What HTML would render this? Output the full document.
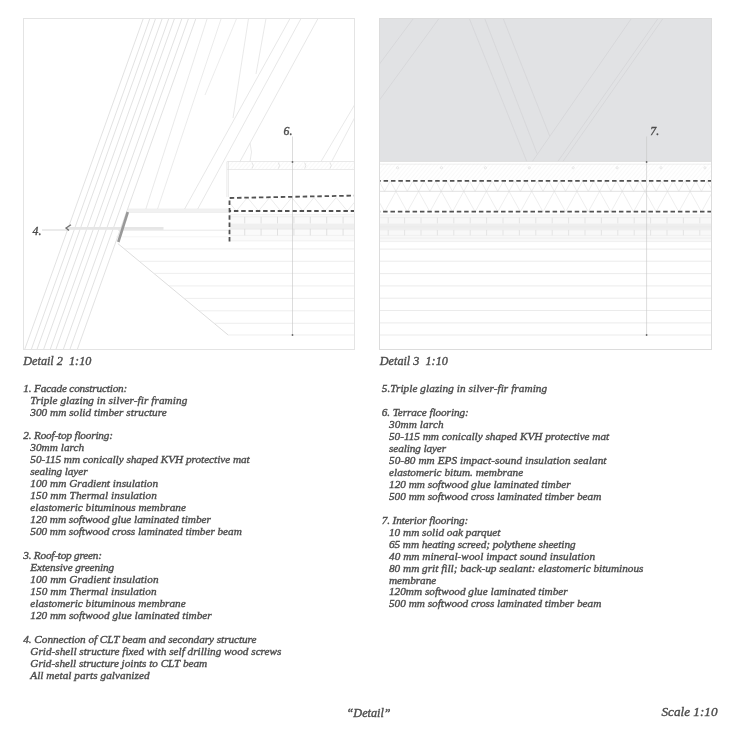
<!DOCTYPE html>
<html><head><meta charset="utf-8"><style>
html,body{margin:0;padding:0;background:#fff;width:730px;height:730px;overflow:hidden}
svg{display:block;will-change:transform}
text{font-family:"Liberation Serif",serif;font-style:italic;stroke:#4c4c4c;stroke-width:0.38px}
</style></head><body>
<svg width="730" height="730" viewBox="0 0 730 730">
<defs>
<pattern id="hatch" patternUnits="userSpaceOnUse" width="3" height="3" patternTransform="rotate(40)">
<line x1="0" y1="0" x2="0" y2="3" stroke="#eeeeee" stroke-width="0.7"/>
</pattern>
</defs>
<rect width="730" height="730" fill="#fff"/>
<g id="left">
<line x1="143.30" y1="18.50" x2="24.67" y2="349.50" stroke="#d6d6d6" stroke-width="0.7" />
<line x1="149.90" y1="18.50" x2="31.27" y2="349.50" stroke="#d6d6d6" stroke-width="0.7" />
<line x1="155.60" y1="18.50" x2="36.97" y2="349.50" stroke="#d6d6d6" stroke-width="0.7" />
<line x1="162.20" y1="18.50" x2="43.57" y2="349.50" stroke="#d6d6d6" stroke-width="0.7" />
<line x1="168.80" y1="18.50" x2="50.17" y2="349.50" stroke="#d6d6d6" stroke-width="0.7" />
<line x1="174.50" y1="18.50" x2="55.87" y2="349.50" stroke="#d6d6d6" stroke-width="0.7" />
<line x1="181.90" y1="18.50" x2="63.27" y2="349.50" stroke="#d6d6d6" stroke-width="0.7" />
<line x1="188.50" y1="18.50" x2="69.87" y2="349.50" stroke="#d6d6d6" stroke-width="0.7" />
<line x1="195.90" y1="18.50" x2="77.27" y2="349.50" stroke="#d6d6d6" stroke-width="0.7" />
<line x1="207.20" y1="18.50" x2="145.80" y2="209.20" stroke="#e0e0e0" stroke-width="0.7" />
<line x1="221.20" y1="18.50" x2="157.50" y2="209.20" stroke="#e2e2e2" stroke-width="0.7" />
<line x1="236.60" y1="18.50" x2="205.00" y2="95.00" stroke="#e4e4e4" stroke-width="0.7" />
<line x1="248.50" y1="18.50" x2="233.00" y2="118.00" stroke="#e0e0e0" stroke-width="0.7" />
<line x1="266.00" y1="18.50" x2="256.00" y2="74.00" stroke="#e0e0e0" stroke-width="0.7" />
<line x1="290.00" y1="18.50" x2="184.50" y2="209.20" stroke="#dcdcdc" stroke-width="0.7" />
<line x1="301.00" y1="18.50" x2="197.60" y2="209.20" stroke="#dcdcdc" stroke-width="0.7" />
<line x1="318.00" y1="18.50" x2="240.00" y2="161.50" stroke="#dcdcdc" stroke-width="0.7" />
<line x1="354.50" y1="105.00" x2="321.00" y2="161.50" stroke="#e0e0e0" stroke-width="0.7" />
<line x1="354.50" y1="118.00" x2="331.70" y2="161.50" stroke="#e0e0e0" stroke-width="0.7" />
<path d="M250,143 Q253,152 250,161.5" fill="none" stroke="#e0e0e0" stroke-width="0.7"/>
<line x1="128.00" y1="209.20" x2="228.00" y2="209.20" stroke="#e4e4e4" stroke-width="0.8" />
<line x1="128.00" y1="212.30" x2="228.00" y2="212.30" stroke="#e4e4e4" stroke-width="0.8" />
<rect x="128" y="209.2" width="100" height="3.1" fill="#f1f1f1"/>
<rect x="67" y="227" width="96.5" height="2.8" fill="#e6e6e6"/>
<line x1="42.00" y1="230.00" x2="67.50" y2="230.00" stroke="#bdbdbd" stroke-width="0.6" />
<line x1="118.00" y1="230.20" x2="228.00" y2="230.20" stroke="#e0e0e0" stroke-width="0.7" />
<line x1="116.00" y1="236.80" x2="228.00" y2="236.80" stroke="#eeeeee" stroke-width="0.6" />
<path d="M71,224.8 L66,228 L69,230.6" fill="none" stroke="#707070" stroke-width="1.3"/>
<line x1="117.80" y1="243.50" x2="228.20" y2="335.00" stroke="#d2d2d2" stroke-width="0.75" />
<line x1="124.32" y1="248.90" x2="354.50" y2="248.90" stroke="#e6e6e6" stroke-width="0.7" />
<line x1="139.28" y1="261.30" x2="354.50" y2="261.30" stroke="#e6e6e6" stroke-width="0.7" />
<line x1="153.88" y1="273.40" x2="354.50" y2="273.40" stroke="#e6e6e6" stroke-width="0.7" />
<line x1="168.96" y1="285.90" x2="354.50" y2="285.90" stroke="#e6e6e6" stroke-width="0.7" />
<line x1="184.04" y1="298.40" x2="354.50" y2="298.40" stroke="#e6e6e6" stroke-width="0.7" />
<line x1="199.00" y1="310.80" x2="354.50" y2="310.80" stroke="#e6e6e6" stroke-width="0.7" />
<line x1="214.08" y1="323.30" x2="354.50" y2="323.30" stroke="#e6e6e6" stroke-width="0.7" />
<line x1="228.20" y1="335.00" x2="354.50" y2="335.00" stroke="#e6e6e6" stroke-width="0.7" />
<line x1="127.80" y1="212.00" x2="118.30" y2="242.00" stroke="#999999" stroke-width="2.6" />
<rect x="227.3" y="161.5" width="127.19999999999999" height="8.2" fill="url(#hatch)"/>
<line x1="227.30" y1="161.50" x2="354.50" y2="161.50" stroke="#e0e0e0" stroke-width="0.7" />
<line x1="227.30" y1="169.50" x2="354.50" y2="169.50" stroke="#e2e2e2" stroke-width="0.7" />
<line x1="226.60" y1="161.50" x2="226.60" y2="197.00" stroke="#e6e6e6" stroke-width="0.6" />
<line x1="228.20" y1="161.50" x2="228.20" y2="197.00" stroke="#d8d8d8" stroke-width="0.7" />
<path d="M252,162.5 Q254.5,165.6 252,168.7" fill="none" stroke="#d8d8d8" stroke-width="0.7"/>
<path d="M278.3,162.5 Q280.8,165.6 278.3,168.7" fill="none" stroke="#d8d8d8" stroke-width="0.7"/>
<path d="M304.6,162.5 Q307.1,165.6 304.6,168.7" fill="none" stroke="#d8d8d8" stroke-width="0.7"/>
<path d="M330,162.5 Q332.5,165.6 330,168.7" fill="none" stroke="#d8d8d8" stroke-width="0.7"/>
<rect x="229.5" y="214.6" width="125.0" height="26.4" fill="#fafafa"/>
<rect x="229.5" y="223.6" width="125.0" height="6" fill="#efefef"/>
<line x1="229.50" y1="214.60" x2="354.50" y2="214.60" stroke="#eaeaea" stroke-width="0.6" />
<line x1="229.50" y1="216.80" x2="354.50" y2="216.80" stroke="#eaeaea" stroke-width="0.6" />
<line x1="229.50" y1="228.80" x2="354.50" y2="228.80" stroke="#eaeaea" stroke-width="0.6" />
<line x1="229.50" y1="235.40" x2="354.50" y2="235.40" stroke="#eaeaea" stroke-width="0.6" />
<line x1="229.50" y1="240.90" x2="354.50" y2="240.90" stroke="#eaeaea" stroke-width="0.6" />
<line x1="244.70" y1="216.80" x2="244.70" y2="223.40" stroke="#d6d6d6" stroke-width="0.7" />
<line x1="244.70" y1="228.80" x2="244.70" y2="235.40" stroke="#d6d6d6" stroke-width="0.7" />
<line x1="261.10" y1="216.80" x2="261.10" y2="223.40" stroke="#d6d6d6" stroke-width="0.7" />
<line x1="261.10" y1="228.80" x2="261.10" y2="235.40" stroke="#d6d6d6" stroke-width="0.7" />
<line x1="277.50" y1="216.80" x2="277.50" y2="223.40" stroke="#d6d6d6" stroke-width="0.7" />
<line x1="277.50" y1="228.80" x2="277.50" y2="235.40" stroke="#d6d6d6" stroke-width="0.7" />
<line x1="293.90" y1="216.80" x2="293.90" y2="223.40" stroke="#d6d6d6" stroke-width="0.7" />
<line x1="293.90" y1="228.80" x2="293.90" y2="235.40" stroke="#d6d6d6" stroke-width="0.7" />
<line x1="310.30" y1="216.80" x2="310.30" y2="223.40" stroke="#d6d6d6" stroke-width="0.7" />
<line x1="310.30" y1="228.80" x2="310.30" y2="235.40" stroke="#d6d6d6" stroke-width="0.7" />
<line x1="326.70" y1="216.80" x2="326.70" y2="223.40" stroke="#d6d6d6" stroke-width="0.7" />
<line x1="326.70" y1="228.80" x2="326.70" y2="235.40" stroke="#d6d6d6" stroke-width="0.7" />
<line x1="343.10" y1="216.80" x2="343.10" y2="223.40" stroke="#d6d6d6" stroke-width="0.7" />
<line x1="343.10" y1="228.80" x2="343.10" y2="235.40" stroke="#d6d6d6" stroke-width="0.7" />
<clipPath id="cl1"><rect x="229.5" y="190" width="125.0" height="30"/></clipPath>
<polyline points="214.10,211 225.20,197.5 236.30,211 247.40,197.5 258.50,211 269.60,197.5 280.70,211 291.80,197.5 302.90,211 314.00,197.5 325.10,211 336.20,197.5 347.30,211 358.40,197.5 369.50,211" fill="none" stroke="#e4e4e4" stroke-width="0.7" clip-path="url(#cl1)"/>
<path d="M229.5,241.6 L229.5,198 L354.5,195.6" fill="none" stroke="#525252" stroke-width="1.8" stroke-dasharray="4.5 2.8"/>
<line x1="229.50" y1="211.00" x2="354.50" y2="211.00" stroke="#525252" stroke-width="1.8" stroke-dasharray="4.5 2.8" stroke-dashoffset="2.9"/>
<line x1="292.50" y1="136.50" x2="292.50" y2="335.00" stroke="#c4c4c4" stroke-width="0.6" />
<circle cx="292.5" cy="162" r="0.9" fill="#666"/><circle cx="292.5" cy="335" r="0.9" fill="#666"/>
</g>
<g id="right">
<rect x="379.5" y="18.5" width="332.0" height="142.8" fill="#e1e2e4"/>
<line x1="413.40" y1="18.50" x2="379.50" y2="64.00" stroke="#d2d3d5" stroke-width="0.7" />
<line x1="439.00" y1="18.50" x2="379.50" y2="100.00" stroke="#d2d3d5" stroke-width="0.7" />
<line x1="469.30" y1="18.50" x2="526.70" y2="161.30" stroke="#d2d3d5" stroke-width="0.7" />
<line x1="484.70" y1="18.50" x2="537.10" y2="153.70" stroke="#d2d3d5" stroke-width="0.7" />
<line x1="503.20" y1="18.50" x2="549.70" y2="136.00" stroke="#d2d3d5" stroke-width="0.7" />
<line x1="631.40" y1="18.50" x2="532.50" y2="161.30" stroke="#d2d3d5" stroke-width="0.7" />
<line x1="658.00" y1="18.50" x2="558.00" y2="161.30" stroke="#d2d3d5" stroke-width="0.7" />
<line x1="663.00" y1="18.50" x2="563.00" y2="161.30" stroke="#d2d3d5" stroke-width="0.7" />
<rect x="379.5" y="163.7" width="332.0" height="17" fill="url(#hatch)"/>
<line x1="379.50" y1="161.40" x2="711.50" y2="161.40" stroke="#d4d4d4" stroke-width="0.7" />
<line x1="379.50" y1="164.20" x2="711.50" y2="164.20" stroke="#e4e4e4" stroke-width="0.6" />
<circle cx="397.6" cy="167.8" r="1.1" fill="none" stroke="#dadada" stroke-width="0.6"/>
<circle cx="441.5" cy="167.8" r="1.1" fill="none" stroke="#dadada" stroke-width="0.6"/>
<circle cx="485.4" cy="167.8" r="1.1" fill="none" stroke="#dadada" stroke-width="0.6"/>
<circle cx="529.3" cy="167.8" r="1.1" fill="none" stroke="#dadada" stroke-width="0.6"/>
<circle cx="573.2" cy="167.8" r="1.1" fill="none" stroke="#dadada" stroke-width="0.6"/>
<circle cx="617.1" cy="167.8" r="1.1" fill="none" stroke="#dadada" stroke-width="0.6"/>
<circle cx="661.0" cy="167.8" r="1.1" fill="none" stroke="#dadada" stroke-width="0.6"/>
<circle cx="704.9" cy="167.8" r="1.1" fill="none" stroke="#dadada" stroke-width="0.6"/>
<clipPath id="cl2"><rect x="379.5" y="150" width="332.0" height="80"/></clipPath>
<polyline points="373.29,191.3 378.94,181 384.60,191.3 390.26,181 395.92,191.3 401.57,181 407.23,191.3 412.89,181 418.55,191.3 424.20,181 429.86,191.3 435.52,181 441.18,191.3 446.83,181 452.49,191.3 458.15,181 463.81,191.3 469.46,181 475.12,191.3 480.78,181 486.44,191.3 492.09,181 497.75,191.3 503.41,181 509.07,191.3 514.72,181 520.38,191.3 526.04,181 531.70,191.3 537.35,181 543.01,191.3 548.67,181 554.33,191.3 559.98,181 565.64,191.3 571.30,181 576.96,191.3 582.61,181 588.27,191.3 593.93,181 599.59,191.3 605.24,181 610.90,191.3 616.56,181 622.22,191.3 627.87,181 633.53,191.3 639.19,181 644.85,191.3 650.50,181 656.16,191.3 661.82,181 667.48,191.3 673.13,181 678.79,191.3 684.45,181 690.11,191.3 695.76,181 701.42,191.3 707.08,181 712.74,191.3 718.39,181" fill="none" stroke="#e6e6e6" stroke-width="0.7" clip-path="url(#cl2)"/>
<polyline points="361.97,211.8 373.29,191.3 384.60,211.8 395.92,191.3 407.23,211.8 418.55,191.3 429.86,211.8 441.18,191.3 452.49,211.8 463.81,191.3 475.12,211.8 486.44,191.3 497.75,211.8 509.06,191.3 520.38,211.8 531.70,191.3 543.01,211.8 554.33,191.3 565.64,211.8 576.96,191.3 588.27,211.8 599.59,191.3 610.90,211.8 622.22,191.3 633.53,211.8 644.85,191.3 656.16,211.8 667.48,191.3 678.79,211.8 690.11,191.3 701.42,211.8 712.74,191.3 724.05,211.8" fill="none" stroke="#e6e6e6" stroke-width="0.7" clip-path="url(#cl2)"/>
<line x1="379.50" y1="191.30" x2="711.50" y2="191.30" stroke="#d4d4d4" stroke-width="0.7" />
<rect x="379.5" y="214.8" width="332.0" height="26.8" fill="#f8f8f8"/>
<rect x="379.5" y="223.6" width="332.0" height="6" fill="#eeeeee"/>
<line x1="379.50" y1="214.80" x2="711.50" y2="214.80" stroke="#eaeaea" stroke-width="0.6" />
<line x1="379.50" y1="217.60" x2="711.50" y2="217.60" stroke="#eaeaea" stroke-width="0.6" />
<line x1="379.50" y1="226.80" x2="711.50" y2="226.80" stroke="#eaeaea" stroke-width="0.6" />
<line x1="379.50" y1="229.90" x2="711.50" y2="229.90" stroke="#eaeaea" stroke-width="0.6" />
<line x1="379.50" y1="235.40" x2="711.50" y2="235.40" stroke="#eaeaea" stroke-width="0.6" />
<line x1="379.50" y1="238.10" x2="711.50" y2="238.10" stroke="#eaeaea" stroke-width="0.6" />
<line x1="379.50" y1="241.60" x2="711.50" y2="241.60" stroke="#eaeaea" stroke-width="0.6" />
<line x1="388.20" y1="217.60" x2="388.20" y2="223.40" stroke="#dcdcdc" stroke-width="0.7" />
<line x1="388.20" y1="229.90" x2="388.20" y2="235.40" stroke="#dcdcdc" stroke-width="0.7" />
<line x1="404.60" y1="217.60" x2="404.60" y2="223.40" stroke="#dcdcdc" stroke-width="0.7" />
<line x1="404.60" y1="229.90" x2="404.60" y2="235.40" stroke="#dcdcdc" stroke-width="0.7" />
<line x1="421.00" y1="217.60" x2="421.00" y2="223.40" stroke="#dcdcdc" stroke-width="0.7" />
<line x1="421.00" y1="229.90" x2="421.00" y2="235.40" stroke="#dcdcdc" stroke-width="0.7" />
<line x1="437.40" y1="217.60" x2="437.40" y2="223.40" stroke="#dcdcdc" stroke-width="0.7" />
<line x1="437.40" y1="229.90" x2="437.40" y2="235.40" stroke="#dcdcdc" stroke-width="0.7" />
<line x1="453.80" y1="217.60" x2="453.80" y2="223.40" stroke="#dcdcdc" stroke-width="0.7" />
<line x1="453.80" y1="229.90" x2="453.80" y2="235.40" stroke="#dcdcdc" stroke-width="0.7" />
<line x1="470.20" y1="217.60" x2="470.20" y2="223.40" stroke="#dcdcdc" stroke-width="0.7" />
<line x1="470.20" y1="229.90" x2="470.20" y2="235.40" stroke="#dcdcdc" stroke-width="0.7" />
<line x1="486.60" y1="217.60" x2="486.60" y2="223.40" stroke="#dcdcdc" stroke-width="0.7" />
<line x1="486.60" y1="229.90" x2="486.60" y2="235.40" stroke="#dcdcdc" stroke-width="0.7" />
<line x1="503.00" y1="217.60" x2="503.00" y2="223.40" stroke="#dcdcdc" stroke-width="0.7" />
<line x1="503.00" y1="229.90" x2="503.00" y2="235.40" stroke="#dcdcdc" stroke-width="0.7" />
<line x1="519.40" y1="217.60" x2="519.40" y2="223.40" stroke="#dcdcdc" stroke-width="0.7" />
<line x1="519.40" y1="229.90" x2="519.40" y2="235.40" stroke="#dcdcdc" stroke-width="0.7" />
<line x1="535.80" y1="217.60" x2="535.80" y2="223.40" stroke="#dcdcdc" stroke-width="0.7" />
<line x1="535.80" y1="229.90" x2="535.80" y2="235.40" stroke="#dcdcdc" stroke-width="0.7" />
<line x1="552.20" y1="217.60" x2="552.20" y2="223.40" stroke="#dcdcdc" stroke-width="0.7" />
<line x1="552.20" y1="229.90" x2="552.20" y2="235.40" stroke="#dcdcdc" stroke-width="0.7" />
<line x1="568.60" y1="217.60" x2="568.60" y2="223.40" stroke="#dcdcdc" stroke-width="0.7" />
<line x1="568.60" y1="229.90" x2="568.60" y2="235.40" stroke="#dcdcdc" stroke-width="0.7" />
<line x1="585.00" y1="217.60" x2="585.00" y2="223.40" stroke="#dcdcdc" stroke-width="0.7" />
<line x1="585.00" y1="229.90" x2="585.00" y2="235.40" stroke="#dcdcdc" stroke-width="0.7" />
<line x1="601.40" y1="217.60" x2="601.40" y2="223.40" stroke="#dcdcdc" stroke-width="0.7" />
<line x1="601.40" y1="229.90" x2="601.40" y2="235.40" stroke="#dcdcdc" stroke-width="0.7" />
<line x1="617.80" y1="217.60" x2="617.80" y2="223.40" stroke="#dcdcdc" stroke-width="0.7" />
<line x1="617.80" y1="229.90" x2="617.80" y2="235.40" stroke="#dcdcdc" stroke-width="0.7" />
<line x1="634.20" y1="217.60" x2="634.20" y2="223.40" stroke="#dcdcdc" stroke-width="0.7" />
<line x1="634.20" y1="229.90" x2="634.20" y2="235.40" stroke="#dcdcdc" stroke-width="0.7" />
<line x1="650.60" y1="217.60" x2="650.60" y2="223.40" stroke="#dcdcdc" stroke-width="0.7" />
<line x1="650.60" y1="229.90" x2="650.60" y2="235.40" stroke="#dcdcdc" stroke-width="0.7" />
<line x1="667.00" y1="217.60" x2="667.00" y2="223.40" stroke="#dcdcdc" stroke-width="0.7" />
<line x1="667.00" y1="229.90" x2="667.00" y2="235.40" stroke="#dcdcdc" stroke-width="0.7" />
<line x1="683.40" y1="217.60" x2="683.40" y2="223.40" stroke="#dcdcdc" stroke-width="0.7" />
<line x1="683.40" y1="229.90" x2="683.40" y2="235.40" stroke="#dcdcdc" stroke-width="0.7" />
<line x1="699.80" y1="217.60" x2="699.80" y2="223.40" stroke="#dcdcdc" stroke-width="0.7" />
<line x1="699.80" y1="229.90" x2="699.80" y2="235.40" stroke="#dcdcdc" stroke-width="0.7" />
<line x1="379.50" y1="249.10" x2="711.50" y2="249.10" stroke="#e3e3e3" stroke-width="0.7" />
<line x1="379.50" y1="261.20" x2="711.50" y2="261.20" stroke="#e3e3e3" stroke-width="0.7" />
<line x1="379.50" y1="273.60" x2="711.50" y2="273.60" stroke="#e3e3e3" stroke-width="0.7" />
<line x1="379.50" y1="285.90" x2="711.50" y2="285.90" stroke="#e3e3e3" stroke-width="0.7" />
<line x1="379.50" y1="298.20" x2="711.50" y2="298.20" stroke="#e3e3e3" stroke-width="0.7" />
<line x1="379.50" y1="310.50" x2="711.50" y2="310.50" stroke="#e3e3e3" stroke-width="0.7" />
<line x1="379.50" y1="322.90" x2="711.50" y2="322.90" stroke="#e3e3e3" stroke-width="0.7" />
<line x1="379.50" y1="335.00" x2="711.50" y2="335.00" stroke="#e3e3e3" stroke-width="0.7" />
<line x1="379.50" y1="180.90" x2="711.50" y2="180.90" stroke="#525252" stroke-width="1.8" stroke-dasharray="4.5 2.87" stroke-dashoffset="3.27"/>
<line x1="379.50" y1="211.70" x2="711.50" y2="211.70" stroke="#525252" stroke-width="1.8" stroke-dasharray="4.5 2.87" stroke-dashoffset="3.77"/>
<line x1="646.60" y1="136.50" x2="646.60" y2="335.00" stroke="#c4c4c4" stroke-width="0.6" />
<circle cx="646.6" cy="162" r="0.9" fill="#666"/><circle cx="646.6" cy="335" r="0.9" fill="#666"/>
</g>
<rect x="23.5" y="18.5" width="331.0" height="331.0" fill="none" stroke="#e4e4e4" stroke-width="1"/>
<rect x="379.5" y="18.5" width="332.0" height="331.0" fill="none" stroke="#dcdcdc" stroke-width="1"/>
<text x="283.6" y="135.3" font-size="11.8" fill="#4c4c4c" >6.</text>
<text x="650.3" y="135.2" font-size="11.8" fill="#4c4c4c" >7.</text>
<text x="32.6" y="235" font-size="11.8" fill="#4c4c4c" >4.</text>
<text x="23.3" y="364.6" font-size="12.2" fill="#4c4c4c" >Detail 2  1:10</text>
<text x="379.8" y="364.6" font-size="12.2" fill="#4c4c4c" >Detail 3  1:10</text>
<text x="23.3" y="391.6" font-size="11.25" fill="#4c4c4c" id="L0" textLength="104.00" lengthAdjust="spacing">1. Facade construction:</text>
<text x="30.3" y="403.57" font-size="11.25" fill="#4c4c4c" id="L1" textLength="157.00" lengthAdjust="spacing">Triple glazing in silver-fir framing</text>
<text x="30.3" y="415.54" font-size="11.25" fill="#4c4c4c" id="L2" textLength="136.44" lengthAdjust="spacing">300 mm solid timber structure</text>
<text x="23.3" y="439.48" font-size="11.25" fill="#4c4c4c" id="L4" textLength="89.64" lengthAdjust="spacing">2. Roof-top flooring:</text>
<text x="30.3" y="451.45" font-size="11.25" fill="#4c4c4c" id="L5" textLength="53.86" lengthAdjust="spacing">30mm larch</text>
<text x="30.3" y="463.42" font-size="11.25" fill="#4c4c4c" id="L6" textLength="219.40" lengthAdjust="spacing">50-115 mm conically shaped KVH protective mat</text>
<text x="30.3" y="475.39" font-size="11.25" fill="#4c4c4c" id="L7" textLength="57.24" lengthAdjust="spacing">sealing layer</text>
<text x="30.3" y="487.36" font-size="11.25" fill="#4c4c4c" id="L8" textLength="127.80" lengthAdjust="spacing">100 mm Gradient insulation</text>
<text x="30.3" y="499.33" font-size="11.25" fill="#4c4c4c" id="L9" textLength="126.50" lengthAdjust="spacing">150 mm Thermal insulation</text>
<text x="30.3" y="511.3" font-size="11.25" fill="#4c4c4c" id="L10" textLength="155.61" lengthAdjust="spacing">elastomeric bituminous membrane</text>
<text x="30.3" y="523.27" font-size="11.25" fill="#4c4c4c" id="L11" textLength="180.56" lengthAdjust="spacing">120 mm softwood glue laminated timber</text>
<text x="30.3" y="535.24" font-size="11.25" fill="#4c4c4c" id="L12" textLength="211.50" lengthAdjust="spacing">500 mm softwood cross laminated timber beam</text>
<text x="23.3" y="559.18" font-size="11.25" fill="#4c4c4c" id="L14" textLength="78.59" lengthAdjust="spacing">3. Roof-top green:</text>
<text x="30.3" y="571.15" font-size="11.25" fill="#4c4c4c" id="L15" textLength="83.90" lengthAdjust="spacing">Extensive greening</text>
<text x="30.3" y="583.12" font-size="11.25" fill="#4c4c4c" id="L16" textLength="128.20" lengthAdjust="spacing">100 mm Gradient insulation</text>
<text x="30.3" y="595.09" font-size="11.25" fill="#4c4c4c" id="L17" textLength="126.30" lengthAdjust="spacing">150 mm Thermal insulation</text>
<text x="30.3" y="607.06" font-size="11.25" fill="#4c4c4c" id="L18" textLength="155.41" lengthAdjust="spacing">elastomeric bituminous membrane</text>
<text x="30.3" y="619.03" font-size="11.25" fill="#4c4c4c" id="L19" textLength="181.36" lengthAdjust="spacing">120 mm softwood glue laminated timber</text>
<text x="23.3" y="642.97" font-size="11.25" fill="#4c4c4c" id="L21" textLength="233.22" lengthAdjust="spacing">4. Connection of CLT beam and secondary structure</text>
<text x="30.3" y="654.94" font-size="11.25" fill="#4c4c4c" id="L22" textLength="251.16" lengthAdjust="spacing">Grid-shell structure fixed with self drilling wood screws</text>
<text x="30.3" y="666.91" font-size="11.25" fill="#4c4c4c" id="L23" textLength="176.83" lengthAdjust="spacing">Grid-shell structure joints to CLT beam</text>
<text x="30.3" y="678.88" font-size="11.25" fill="#4c4c4c" id="L24" textLength="119.24" lengthAdjust="spacing">All metal parts galvanized</text>
<text x="381.7" y="392.0" font-size="11.25" fill="#4c4c4c" id="R0" textLength="165.43" lengthAdjust="spacing">5.Triple glazing in silver-fir framing</text>
<text x="381.7" y="415.94" font-size="11.25" fill="#4c4c4c" id="R2" textLength="87.06" lengthAdjust="spacing">6. Terrace flooring:</text>
<text x="389.0" y="427.91" font-size="11.25" fill="#4c4c4c" id="R3" textLength="54.66" lengthAdjust="spacing">30mm larch</text>
<text x="389.0" y="439.88" font-size="11.25" fill="#4c4c4c" id="R4" textLength="220.20" lengthAdjust="spacing">50-115 mm conically shaped KVH protective mat</text>
<text x="389.0" y="451.85" font-size="11.25" fill="#4c4c4c" id="R5" textLength="57.04" lengthAdjust="spacing">sealing layer</text>
<text x="389.0" y="463.82" font-size="11.25" fill="#4c4c4c" id="R6" textLength="217.49" lengthAdjust="spacing">50-80 mm EPS impact-sound insulation sealant</text>
<text x="389.0" y="475.79" font-size="11.25" fill="#4c4c4c" id="R7" textLength="134.25" lengthAdjust="spacing">elastomeric bitum. membrane</text>
<text x="389.0" y="487.76" font-size="11.25" fill="#4c4c4c" id="R8" textLength="181.76" lengthAdjust="spacing">120 mm softwood glue laminated timber</text>
<text x="389.0" y="499.73" font-size="11.25" fill="#4c4c4c" id="R9" textLength="212.30" lengthAdjust="spacing">500 mm softwood cross laminated timber beam</text>
<text x="381.7" y="523.67" font-size="11.25" fill="#4c4c4c" id="R11" textLength="86.46" lengthAdjust="spacing">7. Interior flooring:</text>
<text x="389.0" y="535.64" font-size="11.25" fill="#4c4c4c" id="R12" textLength="111.45" lengthAdjust="spacing">10 mm solid oak parquet</text>
<text x="389.0" y="547.61" font-size="11.25" fill="#4c4c4c" id="R13" textLength="186.62" lengthAdjust="spacing">65 mm heating screed; polythene sheeting</text>
<text x="389.0" y="559.58" font-size="11.25" fill="#4c4c4c" id="R14" textLength="206.09" lengthAdjust="spacing">40 mm mineral-wool impact sound insulation</text>
<text x="389.0" y="571.55" font-size="11.25" fill="#4c4c4c" id="R15" textLength="254.47" lengthAdjust="spacing">80 mm grit fill; back-up sealant: elastomeric bituminous</text>
<text x="389.0" y="583.52" font-size="11.25" fill="#4c4c4c" id="R16" textLength="47.30" lengthAdjust="spacing">membrane</text>
<text x="389.0" y="595.49" font-size="11.25" fill="#4c4c4c" id="R17" textLength="178.75" lengthAdjust="spacing">120mm softwood glue laminated timber</text>
<text x="389.0" y="607.46" font-size="11.25" fill="#4c4c4c" id="R18" textLength="212.30" lengthAdjust="spacing">500 mm softwood cross laminated timber beam</text>
<text x="346.6" y="717" font-size="12.2" fill="#4c4c4c" >“Detail”</text>
<text x="661.5" y="715.8" font-size="13.2" fill="#4c4c4c" >Scale 1:10</text>
</svg>
</body></html>
